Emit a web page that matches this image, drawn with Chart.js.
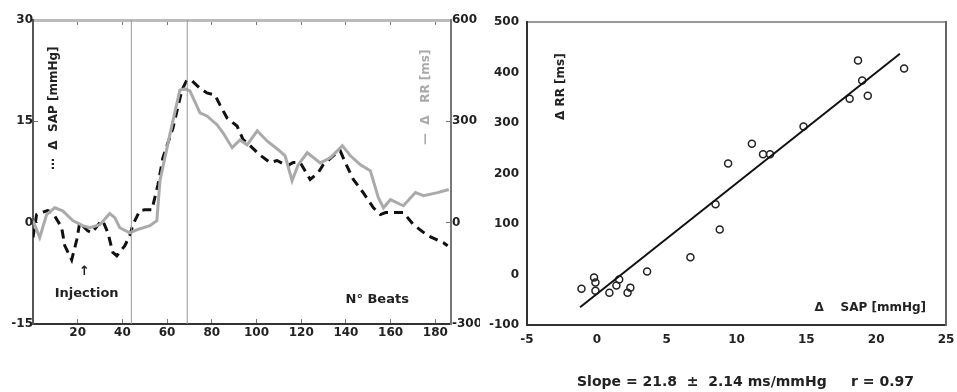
<!DOCTYPE html>
<html>
<head>
  <title>SAP / RR response</title>
  <script src="https://cdn.jsdelivr.net/npm/chart.js@4.4.1/dist/chart.umd.min.js"></script>
  <style>
    body {
      margin: 0;
      background-color: white;
      width: 957px;
      height: 392px;
      overflow: hidden;
      position: relative;
    }
    #leftBox {
      position: absolute;
      left: 0;
      top: 0;
      width: 480px;
      height: 350px;
    }
    #rightBox {
      position: absolute;
      left: 480px;
      top: 0;
      width: 477px;
      height: 392px;
    }
  </style>
</head>
<body>
  <div id="leftBox"><canvas id="timeChart"></canvas></div>
  <div id="rightBox"><canvas id="scatterChart"></canvas></div>

  <script>
    // Time course data (beats)
    var rrBeats = [0, 3, 6.1, 9.7, 13.3, 17.8, 22.2, 25.4, 29.9, 34.3, 36.6, 38.8, 43.3, 46.5, 52.3, 55.4,
      56.8, 61.2, 65.7, 68, 70.2, 74.7, 77.8, 82.3, 85, 89.1, 92.6, 95.8, 100.3, 104.7, 109.7, 112.8,
      115.9, 118.6, 122.7, 128.5, 133, 138.4, 142, 146.5, 150.9, 154.5, 156.8, 159.9, 165.7, 171.1,
      174.7, 181, 186];
    var rrValues = [6, -44, 24, 44, 35, 6, -9, -15, -6, 27, 15, -15, -30, -21, -9, 6,
      124, 260, 393, 396, 390, 325, 316, 290, 266, 222, 245, 230, 272, 242, 216, 198,
      124, 171, 207, 177, 192, 228, 198, 171, 154, 74, 44, 68, 50, 89,
      80, 89, 98];

    var sapBeats = [0, 1.6, 6.5, 8.8, 12.8, 14.2, 17.3, 19.6, 20.9, 24.5, 26.3, 29.9, 31.2, 33.5, 35.7,
      37.5, 41.1, 43.3, 44.7, 47.8, 50, 53.2, 54.5, 55.9, 58.1, 62.6, 66.6, 68.8, 71.1, 74.7, 77.8,
      81.4, 83.7, 86.8, 91.3, 94, 97.1, 101.6, 106.1, 109.2, 113.7, 116.4, 119.5, 124, 127.6, 129.9,
      134.3, 137.5, 139.7, 143.3, 147.8, 152.3, 155.4, 157.7, 163, 165.7, 170.2, 176.5, 183.7, 185.5];
    var sapValues = [-2.2, 1.2, 1.8, 1.5, -0.7, -3.4, -5.5, -2.5, 0, -1.2, -1.5, 0, 0.3, -1.5, -4.4,
      -4.9, -3.4, -1.9, -0.3, 1.8, 1.9, 1.9, 3.7, 5.6, 9.6, 14, 19.6, 21.1, 21, 19.9, 19.2,
      18.9, 17.4, 15.5, 14.3, 12.3, 11.4, 10, 8.9, 9.2, 8.4, 8.9, 8.9, 6.4, 7.4, 8.6,
      9.9, 10.6, 8.9, 6.4, 4.4, 2.2, 1.2, 1.5, 1.5, 1.5, -0.3, -1.9, -3, -3.4];

    var markerBeats = [44, 69];
    var beatTicks = [20, 40, 60, 80, 100, 120, 140, 160, 180];
    var sapTicks = [-15, 0, 15, 30];
    var rrTicks = [-300, 0, 300, 600];

    // Scatter data: change in SAP vs change in RR
    var dSap = [18.7, 22.0, 19.0, 18.1, 19.4, 14.8, 11.1, 11.9, 12.4, 9.4, 8.5, 8.8, 6.7, 3.6,
      -1.1, -0.2, -0.1, -0.1, 0.9, 1.4, 1.6, 2.4, 2.2];
    var dRr = [424, 408, 384, 348, 354, 293, 259, 238, 238, 220, 139, 89, 34, 6,
      -28, -6, -16, -32, -36, -22, -10, -26, -36];
    var fitSap = [-1.2, 21.7];
    var fitRr = [-65, 437];
    var scatterXTicks = [-5, 0, 5, 10, 15, 20, 25];
    var scatterYTicks = [-100, 0, 100, 200, 300, 400, 500];

    var tickFont = { family: 'DejaVu Sans', size: 12, weight: 'bold' };
    var textColor = '#222';

    function toPoints(xs, ys) {
      var pts = [];
      for (var i = 0; i < xs.length; i++) {
        pts.push({ x: xs[i], y: ys[i] });
      }
      return pts;
    }

    function fixedTicks(list) {
      return function(axis) {
        axis.ticks = list.map(function(v) { return { value: v }; });
      };
    }

    // short tick marks pointing into the plot (negative tick length)
    var inwardGrid = { display: true, drawOnChartArea: false, drawTicks: true, tickLength: -5, color: '#777', lineWidth: 1 };
    var noGrid = { display: false };

    function drawVertical(ctx, text, x, y, color) {
      ctx.save();
      ctx.translate(x, y);
      ctx.rotate(-Math.PI / 2);
      ctx.fillStyle = color;
      ctx.textAlign = 'left';
      ctx.textBaseline = 'middle';
      ctx.fillText(text, 0, 0);
      ctx.restore();
    }

    var timeLabels = {
      id: 'timeLabels',
      afterDraw: function(chart) {
        var ctx = chart.ctx;
        var a = chart.chartArea;
        var xs = chart.scales.x;
        ctx.save();
        ctx.font = 'bold 12px "DejaVu Sans"';
        drawVertical(ctx, '\u22EF  \u0394  SAP [mmHg]', a.left + 21, a.top + 150, '#222');
        drawVertical(ctx, '\u2014  \u0394   RR [ms]', a.right - 25, a.top + 125, '#aaa');
        ctx.fillStyle = '#222';
        ctx.textAlign = 'center';
        ctx.textBaseline = 'middle';
        ctx.font = 'bold 13px "DejaVu Sans"';
        ctx.fillText('Injection', xs.getPixelForValue(24), a.bottom - 30);
        ctx.fillText('N\u00B0 Beats', xs.getPixelForValue(154), a.bottom - 24);
        ctx.fillText('\u2191', xs.getPixelForValue(23), a.bottom - 52);
        ctx.restore();
      }
    };

    var scatterLabels = {
      id: 'scatterLabels',
      afterDraw: function(chart) {
        var ctx = chart.ctx;
        var a = chart.chartArea;
        ctx.save();
        ctx.font = 'bold 12px "DejaVu Sans"';
        drawVertical(ctx, '\u0394 RR [ms]', a.left + 34, a.top + 98, '#222');
        ctx.fillStyle = '#222';
        ctx.textAlign = 'right';
        ctx.textBaseline = 'middle';
        ctx.fillText('\u0394    SAP [mmHg]', a.right - 20, a.bottom - 17);
        ctx.font = 'bold 14px "DejaVu Sans"';
        ctx.textAlign = 'center';
        ctx.fillText('Slope = 21.8  \u00B1  2.14 ms/mmHg     r = 0.97', (a.left + a.right) / 2 + 9, a.bottom + 57);
        ctx.restore();
      }
    };

    // Left chart: time course
    var timeChart = new Chart(document.getElementById('timeChart'), {
      type: 'line',
      data: {
        datasets: [
          {
            data: toPoints([markerBeats[0], markerBeats[0]], [sapTicks[0], sapTicks[3]]),
            borderColor: '#999',
            borderWidth: 1,
            pointRadius: 0,
            yAxisID: 'y'
          },
          {
            data: toPoints([markerBeats[1], markerBeats[1]], [sapTicks[0], sapTicks[3]]),
            borderColor: '#999',
            borderWidth: 1,
            pointRadius: 0,
            yAxisID: 'y'
          },
          {
            data: toPoints(rrBeats, rrValues),
            borderColor: '#aaa',
            borderWidth: 3,
            pointRadius: 0,
            tension: 0,
            yAxisID: 'yR'
          },
          {
            data: toPoints(sapBeats, sapValues),
            borderColor: '#111',
            borderWidth: 3,
            borderDash: [9, 6],
            pointRadius: 0,
            tension: 0,
            yAxisID: 'y'
          }
        ]
      },
      options: {
        responsive: true,
        maintainAspectRatio: false,
        animation: false,
        layout: { padding: { top: 20 } },
        plugins: { legend: { display: false }, tooltip: { enabled: false } },
        scales: {
          x: {
            type: 'linear',
            min: 0,
            max: 187,
            afterBuildTicks: fixedTicks(beatTicks),
            afterFit: function(s) { s.height = 26; },
            grid: inwardGrid,
            border: { display: true, color: '#333', width: 2 },
            ticks: { font: tickFont, color: textColor, padding: 7 }
          },
          xTop: {
            type: 'linear',
            position: 'top',
            min: 0,
            max: 187,
            afterBuildTicks: fixedTicks(beatTicks),
            afterFit: function(s) { s.height = 0; },
            grid: inwardGrid,
            border: { display: true, color: '#bbb', width: 3 },
            ticks: { display: false }
          },
          y: {
            position: 'left',
            min: -15,
            max: 30,
            afterBuildTicks: fixedTicks(sapTicks),
            afterFit: function(s) { s.width = 33; },
            grid: inwardGrid,
            border: { display: true, color: '#555', width: 2 },
            ticks: { font: tickFont, color: textColor, padding: 5 }
          },
          yR: {
            position: 'right',
            min: -300,
            max: 600,
            afterBuildTicks: fixedTicks(rrTicks),
            afterFit: function(s) { s.width = 29; },
            grid: inwardGrid,
            border: { display: true, color: '#777', width: 2 },
            ticks: { font: tickFont, color: textColor, padding: 6 }
          }
        }
      },
      plugins: [timeLabels]
    });

    // Right chart: scatter with regression line
    var scatterChart = new Chart(document.getElementById('scatterChart'), {
      type: 'scatter',
      data: {
        datasets: [
          {
            type: 'line',
            data: toPoints(fitSap, fitRr),
            borderColor: '#111',
            borderWidth: 2,
            pointRadius: 0
          },
          {
            data: toPoints(dSap, dRr),
            pointRadius: 3.5,
            pointBorderWidth: 1.5,
            pointBorderColor: '#222',
            pointBackgroundColor: 'rgba(255,255,255,0)'
          }
        ]
      },
      options: {
        responsive: true,
        maintainAspectRatio: false,
        animation: false,
        layout: { padding: { top: 22, right: 11 } },
        plugins: { legend: { display: false }, tooltip: { enabled: false } },
        scales: {
          x: {
            type: 'linear',
            min: -5,
            max: 25,
            afterBuildTicks: fixedTicks(scatterXTicks),
            afterFit: function(s) { s.height = 67; },
            grid: noGrid,
            border: { display: true, color: '#333', width: 2 },
            ticks: { font: tickFont, color: textColor, padding: 0 }
          },
          xTop: {
            type: 'linear',
            position: 'top',
            min: -5,
            max: 25,
            afterFit: function(s) { s.height = 0; },
            grid: noGrid,
            border: { display: true, color: '#999', width: 2 },
            ticks: { display: false }
          },
          y: {
            min: -100,
            max: 500,
            afterBuildTicks: fixedTicks(scatterYTicks),
            afterFit: function(s) { s.width = 47; },
            grid: noGrid,
            border: { display: true, color: '#333', width: 2 },
            ticks: { font: tickFont, color: textColor, padding: 0 }
          },
          yRight: {
            position: 'right',
            min: -100,
            max: 500,
            afterFit: function(s) { s.width = 0; },
            grid: noGrid,
            border: { display: true, color: '#666', width: 2 },
            ticks: { display: false }
          }
        }
      },
      plugins: [scatterLabels]
    });
  </script>
</body>
</html>
